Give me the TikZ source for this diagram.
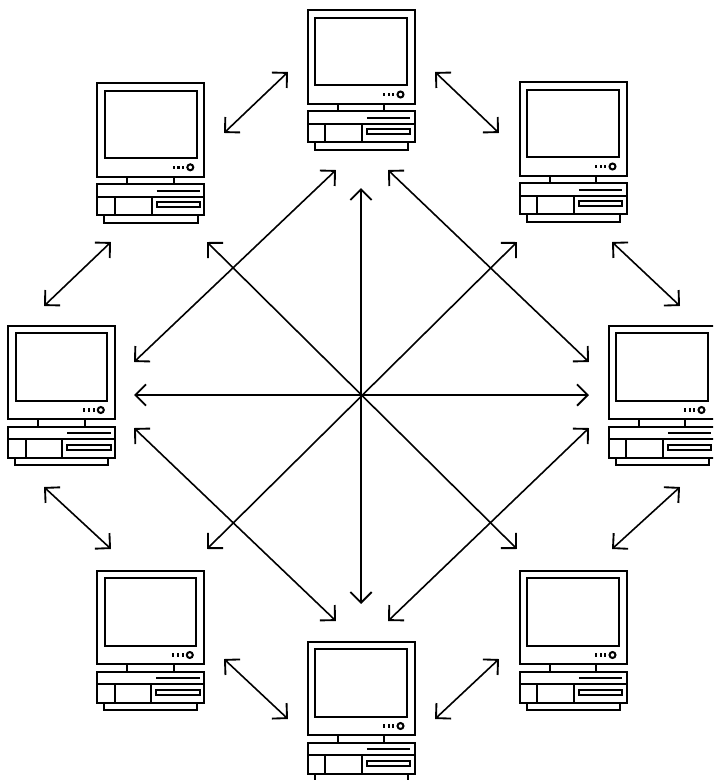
\documentclass[tikz,border=0pt]{standalone}
\usetikzlibrary{arrows.meta}
\pgfdeclarearrow{
  name=VTip,
  setup code={
    \pgfarrowssettipend{0pt}
    \pgfarrowssetlineend{-1pt}
    \pgfarrowssetvisualtipend{0pt}
    \pgfarrowssetbackend{-9pt}
    \pgfarrowssetvisualbackend{-1pt}
    \pgfarrowshullpoint{0pt}{0pt}
    \pgfarrowshullpoint{-9pt}{8pt}
    \pgfarrowshullpoint{-9pt}{-8pt}
  },
  drawing code={
    \pgfsetdash{}{0pt}
    \pgfsetlinewidth{1.4pt}
    \pgfsetmiterjoin
    \pgfsetbuttcap
    \pgfpathmoveto{\pgfpoint{-9pt}{8pt}}
    \pgfpathlineto{\pgfpoint{-1pt}{0pt}}
    \pgfpathlineto{\pgfpoint{-9pt}{-8pt}}
    \pgfusepathqstroke
  }
}
\tikzset{
  x=0.75pt,y=-0.75pt,
  link/.style={draw=black,line width=1.2pt,VTip-VTip},
  hw/.style={draw=black,line width=1.5pt,fill=white},
  hwline/.style={draw=black,line width=1.5pt},
  pc/.pic={
    \draw[hw] (0,0) rectangle (107,93.4);
    \draw[hw] (7.7,7.4) rectangle (99.4,75);
    \draw[hwline] (30,93.4) -- (30,100.7);
    \draw[hwline] (76.7,93.4) -- (76.7,100.7);
    \draw[hw] (7,132) -- (7,139.4) -- (100.4,139.4) -- (100.4,132);
    \draw[hw] (0,100.7) rectangle (107,132);
    \draw[hwline] (0,113.4) -- (107,113.4);
    \draw[hwline] (17.7,113.4) -- (17.7,132);
    \draw[hwline] (54.4,113.4) -- (54.4,132);
    \draw[hwline] (59.4,107.4) -- (102.7,107.4);
    \draw[hw] (59.4,119) rectangle (102.7,123.7);
    \fill (75.4,82.4) rectangle +(2.2,3.2);
    \fill (80,82.4) rectangle +(2.2,3.2);
    \fill (84.7,82.4) rectangle +(2.2,3.2);
    \draw[hwline] (93,84) circle (3);
  }
}
\begin{document}
\begin{tikzpicture}
\useasboundingbox (0,0) rectangle (713,780);
\clip (0,0) rectangle (713,780);
\pic at (307.5,10.5) {pc};
\pic at (519.5,82.5) {pc};
\pic at (608.5,326) {pc};
\pic at (519.5,571) {pc};
\pic at (307.5,642) {pc};
\pic at (96.8,571) {pc};
\pic at (7.8,326) {pc};
\pic at (97.3,83.3) {pc};
\foreach \n/\x/\y in {a1/288/72,a2/224/133,b1/435/72,b2/499/133,c1/612/242,c2/680/306,d1/680/487,d2/612/549,e1/499/659,e2/435/719,f1/224/659,f2/288/719,g1/44/487,g2/111/549,h1/44/306,h2/111/242,i1/361/188,i2/361/604,j1/134/395,j2/589/395,k1/336/170,k2/134/362,l1/388/170,l2/589/362,m1/207/242,m2/517/549,n1/517/242,n2/207/549,o1/134/428,o2/336/621,p1/589/428,p2/388/621}
  \coordinate (\n) at (\x,\y);
\foreach \n in {a,b,c,d,e,f,g,h,i,j,k,l,m,n,o,p}
  \draw[link] (\n1) -- (\n2);
\end{tikzpicture}
\end{document}
